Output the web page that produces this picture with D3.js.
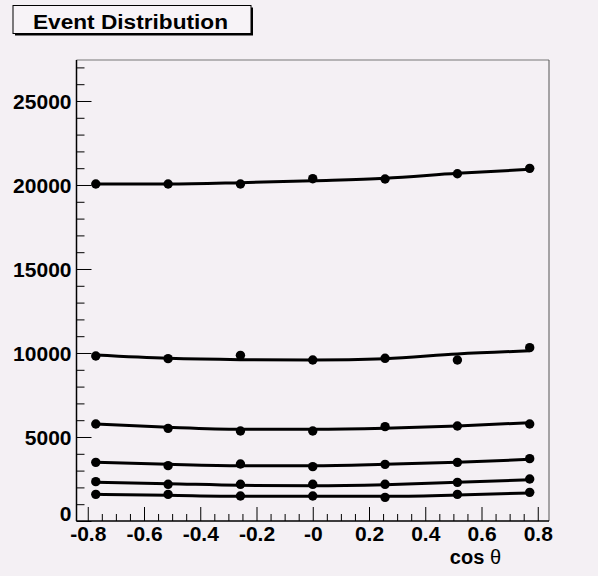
<!DOCTYPE html>
<html><head><meta charset="utf-8">
<script src="https://cdn.jsdelivr.net/npm/d3@7/dist/d3.min.js"></script>
<style>
body{margin:0;background:#f4f0f4;}
svg{display:block;}
</style>
</head><body>
<svg id="chart" width="598" height="576"></svg>
<script>
// ---- data ----
const binCenters = [-0.7714, -0.5143, -0.2571, 0, 0.2571, 0.5143, 0.7714];
const series1 = [20060, 20060, 20060, 20375, 20357, 20670, 20990];
const series2 = [9821, 9663, 9861, 9583, 9683, 9583, 10317];
const series3 = [5774, 5516, 5357, 5357, 5615, 5655, 5774];
const series4 = [3492, 3294, 3393, 3234, 3373, 3492, 3710];
const series5 = [2341, 2183, 2183, 2183, 2183, 2302, 2500];
const series6 = [1587, 1587, 1488, 1488, 1409, 1587, 1706];
// fit curves read at the bin centers
const fit1 = [20060, 20060, 20137, 20256, 20399, 20696, 20935];
const fit2 = [9881, 9683, 9603, 9583, 9663, 9940, 10130];
const fit3 = [5774, 5575, 5456, 5456, 5516, 5655, 5853];
const fit4 = [3492, 3373, 3294, 3294, 3373, 3492, 3671];
const fit5 = [2302, 2222, 2123, 2103, 2163, 2302, 2460];
const fit6 = [1587, 1528, 1468, 1468, 1468, 1548, 1667];
const xTickValues = [-0.8, -0.6, -0.4, -0.2, 0, 0.2, 0.4, 0.6, 0.8];
const xTickLabels = ["-0.8", "-0.6", "-0.4", "-0.2", "-0", "0.2", "0.4", "0.6", "0.8"];
const yTickValues = [0, 5000, 10000, 15000, 20000, 25000];
const yTickLabels = ["0", "5000", "10000", "15000", "20000", "25000"];
const titleText = "Event Distribution";
const xTitle = "cos ";
const xTitleSymbol = "θ";

const allSeries = [series1, series2, series3, series4, series5, series6];
const allFits = [fit1, fit2, fit3, fit4, fit5, fit6];

// ---- layout ----
const svg = d3.select("#chart");
const bg = "#f4f0f4";
svg.append("rect").attr("width", 598).attr("height", 576).attr("fill", bg);

const pLeft = 76.5, pRight = 549, pTop = 60, pBottom = 521;
const x = d3.scaleLinear().domain([-0.84, 0.84]).range([pLeft, pRight]);
const y = d3.scaleLinear().domain([0, 27440]).range([pBottom, pTop]);

const font = "'Liberation Sans', Arial, Helvetica, sans-serif";

// frame (top/right)
svg.append("line").attr("x1", pLeft).attr("x2", pRight).attr("y1", pTop).attr("y2", pTop)
  .attr("stroke", "#777").attr("stroke-width", 1);
svg.append("line").attr("x1", pRight).attr("x2", pRight).attr("y1", pTop).attr("y2", pBottom)
  .attr("stroke", "#555").attr("stroke-width", 1);

// minor ticks x
const xMinor = d3.range(-16, 17).map(i => i * 0.05).filter((v, i) => (i % 4) !== 0);
svg.append("g").attr("transform", `translate(0,${pBottom})`)
  .call(d3.axisBottom(x).tickValues(xMinor).tickSize(-7).tickSizeOuter(0).tickFormat(""))
  .call(g => g.select(".domain").remove())
  .call(g => g.selectAll("line").attr("stroke", "#000").attr("stroke-width", 1));
// major ticks x
svg.append("g").attr("transform", `translate(0,${pBottom})`)
  .call(d3.axisBottom(x).tickValues(xTickValues).tickSize(-14).tickSizeOuter(0).tickPadding(6)
    .tickFormat((d, i) => xTickLabels[i]))
  .call(g => g.select(".domain").remove())
  .call(g => g.selectAll("line").attr("stroke", "#000").attr("stroke-width", 1))
  .call(g => g.selectAll("text").attr("font-family", font).attr("font-weight", "bold")
    .attr("font-size", 21).attr("fill", "#000").attr("dy", "0.68em"));

// minor ticks y
const yMinor = d3.range(0, 28).map(i => i * 1000).filter(v => v % 5000 !== 0);
svg.append("g").attr("transform", `translate(${pLeft},0)`)
  .call(d3.axisLeft(y).tickValues(yMinor).tickSize(-8).tickSizeOuter(0).tickFormat(""))
  .call(g => g.select(".domain").remove())
  .call(g => g.selectAll("line").attr("stroke", "#000").attr("stroke-width", 1));
// major ticks y
svg.append("g").attr("transform", `translate(${pLeft},0)`)
  .call(d3.axisLeft(y).tickValues(yTickValues).tickSize(-15).tickSizeOuter(0).tickPadding(5)
    .tickFormat((d, i) => yTickLabels[i]))
  .call(g => g.select(".domain").remove())
  .call(g => g.selectAll("line").attr("stroke", "#000").attr("stroke-width", 1))
  .call(g => g.selectAll("text").attr("font-family", font).attr("font-weight", "bold")
    .attr("font-size", 21).attr("fill", "#000")
    .attr("dy", d => d === 0 ? "-0.02em" : "0.36em"));

// axis lines
svg.append("line").attr("x1", pLeft).attr("x2", pLeft).attr("y1", pTop).attr("y2", pBottom)
  .attr("stroke", "#000").attr("stroke-width", 1.5);
svg.append("line").attr("x1", pLeft).attr("x2", pRight).attr("y1", pBottom).attr("y2", pBottom)
  .attr("stroke", "#000").attr("stroke-width", 1.5);

// fit curves
const line = d3.line().x((d, i) => x(binCenters[i])).y(d => y(d)).curve(d3.curveMonotoneX);
svg.append("g").selectAll("path").data(allFits).join("path")
  .attr("d", line).attr("fill", "none").attr("stroke", "#000").attr("stroke-width", 3);

// markers
allSeries.forEach(s => {
  svg.append("g").selectAll("circle").data(s).join("circle")
    .attr("cx", (d, i) => x(binCenters[i])).attr("cy", d => y(d)).attr("r", 4.7).attr("fill", "#000");
});

// x axis title
const t = svg.append("text").attr("x", 501).attr("y", 564).attr("text-anchor", "end")
  .attr("font-family", font).attr("font-size", 20).attr("fill", "#000");
t.append("tspan").attr("font-weight", "bold").text(xTitle);
t.append("tspan").attr("font-weight", "normal").text(xTitleSymbol);

// title box
svg.append("rect").attr("x", 15).attr("y", 7.5).attr("width", 238).attr("height", 28).attr("fill", "#000");
svg.append("rect").attr("x", 13).attr("y", 5.5).attr("width", 238).attr("height", 28)
  .attr("fill", "#f7f3f7").attr("stroke", "#000").attr("stroke-width", 1);
svg.append("text").attr("x", 33).attr("y", 28.5).attr("font-family", font).attr("font-weight", "bold")
  .attr("font-size", 20).attr("fill", "#000").attr("textLength", 195).attr("lengthAdjust", "spacingAndGlyphs")
  .text(titleText);
</script>
</body></html>
